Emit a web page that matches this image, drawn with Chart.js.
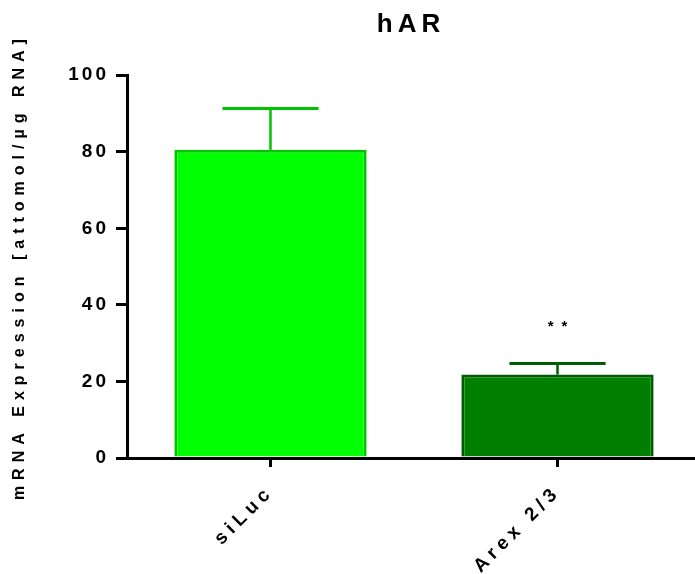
<!DOCTYPE html>
<html>
<head>
<meta charset="utf-8">
<script src="https://cdn.jsdelivr.net/npm/chart.js@4.4.1/dist/chart.umd.min.js"></script>
<style>
  body { margin: 0; background: #fff; }
  #wrap { width: 695px; height: 574px; }
</style>
</head>
<body>
<div id="wrap"><canvas id="barChart" width="695" height="574"></canvas></div>
<script>
// data
var groups = ["siLuc", "Arex 2/3"];
var means = [80.5, 21.8];
var errors = [10.8, 2.9];
var stars = ["", "**"];
var yTicks = [0, 20, 40, 60, 80, 100];

var fillColors = ["#00ff00", "#007f00"];
var edgeColors = ["#00c400", "#005c00"];

var FONT = "'Liberation Sans', Arial, Helvetica, sans-serif";

// wrap a draw method so its text gets prism-like letter spacing
function spaced(obj, name, sp) {
    if (!obj || obj["_sp_" + name]) return;
    var orig = obj[name];
    obj[name] = function () {
        var c = this.ctx;
        var prev = c.letterSpacing;
        c.letterSpacing = sp;
        var r = orig.apply(this, arguments);
        c.letterSpacing = prev;
        return r;
    };
    obj["_sp_" + name] = true;
}

var spacedText = {
    id: "spacedText",
    afterLayout: function (chart) {
        // x axis runs a little past the canvas edge in the original
        var x = chart.scales.x;
        x.right += 6;
        x.width += 6;
        x.configure();
    },
    beforeDraw: function (chart) {
        spaced(chart.scales.x, "drawLabels", "5px");
        spaced(chart.scales.y, "drawLabels", "3px");
        spaced(chart.scales.y, "drawTitle", "6px");
        spaced(chart.titleBlock, "draw", "5px");
    }
};

// error bars (up only) + significance stars
var errorBars = {
    id: "errorBars",
    afterDatasetsDraw: function (chart) {
        var ctx = chart.ctx;
        var meta = chart.getDatasetMeta(0);
        var y = chart.scales.y;
        ctx.save();
        meta.data.forEach(function (bar, i) {
            var top = y.getPixelForValue(means[i] + errors[i]);
            var half = bar.width / 4;
            ctx.strokeStyle = edgeColors[i];
            ctx.lineWidth = 3;
            ctx.beginPath();
            ctx.moveTo(bar.x - half, top);
            ctx.lineTo(bar.x + half, top);
            ctx.stroke();
            ctx.lineWidth = 2.5;
            ctx.beginPath();
            ctx.moveTo(bar.x, top);
            ctx.lineTo(bar.x, bar.y);
            ctx.stroke();
            if (stars[i]) {
                ctx.fillStyle = "#000";
                ctx.font = "bold 15px " + FONT;
                ctx.letterSpacing = "8px";
                ctx.textAlign = "center";
                ctx.textBaseline = "middle";
                ctx.fillText(stars[i], bar.x + 4, y.getPixelForValue(means[i] + errors[i] + 9.5));
            }
        });
        ctx.restore();
    }
};

var ctx = document.getElementById("barChart").getContext("2d");
var chart = new Chart(ctx, {
    type: "bar",
    data: {
        labels: groups,
        datasets: [{
            data: means,
            backgroundColor: fillColors,
            borderColor: edgeColors,
            borderWidth: 3,
            borderSkipped: "start",
            categoryPercentage: 1,
            barPercentage: 0.67
        }]
    },
    options: {
        responsive: false,
        animation: false,
        devicePixelRatio: 1,
        plugins: {
            legend: { display: false },
            tooltip: { enabled: false },
            title: {
                display: true,
                text: "hAR",
                fullSize: false,
                color: "#000",
                font: { family: FONT, size: 26, weight: "bold" },
                padding: { top: 9, bottom: 35 }
            }
        },
        scales: {
            x: {
                z: 1,
                offset: true,
                border: { display: true, color: "#000", width: 3 },
                grid: {
                    offset: false,
                    drawOnChartArea: false,
                    color: "#000",
                    lineWidth: 3,
                    tickLength: 9
                },
                ticks: {
                    color: "#000",
                    font: { family: FONT, size: 19, weight: "bold" },
                    minRotation: 45,
                    maxRotation: 45,
                    padding: 14
                },
                afterFit: function (scale) { scale.height = 116; }
            },
            y: {
                min: 0,
                max: 100,
                afterBuildTicks: function (scale) {
                    scale.ticks = yTicks.map(function (v) { return { value: v }; });
                },
                border: { display: true, color: "#000", width: 3 },
                grid: {
                    drawOnChartArea: false,
                    color: "#000",
                    lineWidth: 3,
                    tickLength: 11
                },
                ticks: {
                    color: "#000",
                    font: { family: FONT, size: 19, weight: "bold" },
                    padding: 7
                },
                title: {
                    display: true,
                    text: "mRNA Expression [attomol/\u00b5g RNA]",
                    color: "#000",
                    font: { family: FONT, size: 16, weight: "bold" },
                    padding: { top: 10, bottom: 0 }
                },
                afterFit: function (scale) { scale.width = 127; }
            }
        }
    },
    plugins: [spacedText, errorBars]
});
</script>
</body>
</html>
